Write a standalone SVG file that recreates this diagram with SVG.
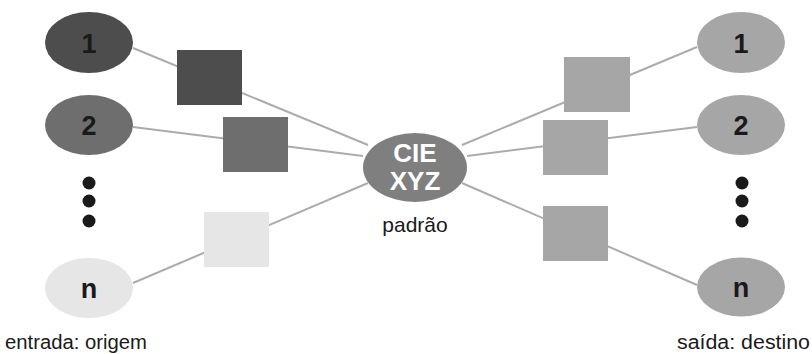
<svg xmlns="http://www.w3.org/2000/svg" width="812" height="354" viewBox="0 0 812 354">
<style>
.ln{stroke:#ababab;stroke-width:2;fill:none}
.num{font-family:"Liberation Sans",Arial,sans-serif;font-weight:bold;font-size:27px;fill:#1a1a1a;text-anchor:middle}
.cie{font-family:"Liberation Sans",Arial,sans-serif;font-weight:bold;font-size:26px;fill:#ffffff;text-anchor:middle}
.lbl{font-family:"Liberation Sans",Arial,sans-serif;font-size:20px;fill:#1a1a1a}
.dot{fill:#1a1a1a}
.out{fill:#a6a6a6}
</style>
<rect width="812" height="354" fill="#ffffff"/>
<g id="connectors">
<line class="ln" x1="133" y1="48" x2="368" y2="145"/>
<line class="ln" x1="133" y1="127" x2="363" y2="156"/>
<line class="ln" x1="133" y1="283" x2="368" y2="183"/>
<line class="ln" x1="462" y1="145" x2="697" y2="47"/>
<line class="ln" x1="467" y1="156" x2="697" y2="127"/>
<line class="ln" x1="462" y1="183" x2="697" y2="285"/>
</g>
<g id="in1"><ellipse cx="89" cy="42.5" rx="44" ry="30.5" fill="#4d4d4d"/><text class="num" x="89" y="53">1</text></g>
<g id="in2"><ellipse cx="89" cy="125" rx="44" ry="30" fill="#6e6e6e"/><text class="num" x="89" y="135">2</text></g>
<g id="in-dots"><circle class="dot" cx="89" cy="183" r="6.5"/><circle class="dot" cx="89" cy="201" r="6.5"/><circle class="dot" cx="89" cy="221" r="6.5"/></g>
<g id="inn"><ellipse cx="89" cy="288" rx="44" ry="30" fill="#e6e6e6"/><text class="num" x="89" y="298">n</text></g>
<g id="sqin1"><rect x="177" y="50" width="65" height="55" fill="#4d4d4d"/></g>
<g id="sqin2"><rect x="223" y="117" width="65" height="55" fill="#6e6e6e"/></g>
<g id="sqinn"><rect x="204" y="212" width="65" height="55" fill="#e6e6e6"/></g>
<g id="cie"><ellipse cx="415" cy="167.5" rx="52" ry="34.5" fill="#7f7f7f"/>
<text class="cie" x="415" y="162">CIE</text>
<text class="cie" x="415" y="190">XYZ</text>
<text class="lbl" x="415" y="232" text-anchor="middle" style="font-size:21px">padrão</text></g>
<g id="sqout1"><rect class="out" x="564" y="57" width="66" height="55"/></g>
<g id="sqout2"><rect class="out" x="543" y="120" width="65" height="55"/></g>
<g id="sqoutn"><rect class="out" x="543" y="206" width="65" height="55"/></g>
<g id="out1"><ellipse class="out" cx="741" cy="42.5" rx="44" ry="30.5"/><text class="num" x="741" y="53">1</text></g>
<g id="out2"><ellipse class="out" cx="741" cy="125" rx="44" ry="30"/><text class="num" x="741" y="135">2</text></g>
<g id="out-dots"><circle class="dot" cx="742" cy="183" r="6.5"/><circle class="dot" cx="742" cy="201" r="6.5"/><circle class="dot" cx="742" cy="221" r="6.5"/></g>
<g id="outn"><ellipse class="out" cx="741" cy="287" rx="44" ry="29.5"/><text class="num" x="741" y="297">n</text></g>
<text class="lbl" x="5" y="349" textLength="142" lengthAdjust="spacingAndGlyphs">entrada: origem</text>
<text class="lbl" x="677" y="349" textLength="133" lengthAdjust="spacingAndGlyphs">saída: destino</text>
</svg>
